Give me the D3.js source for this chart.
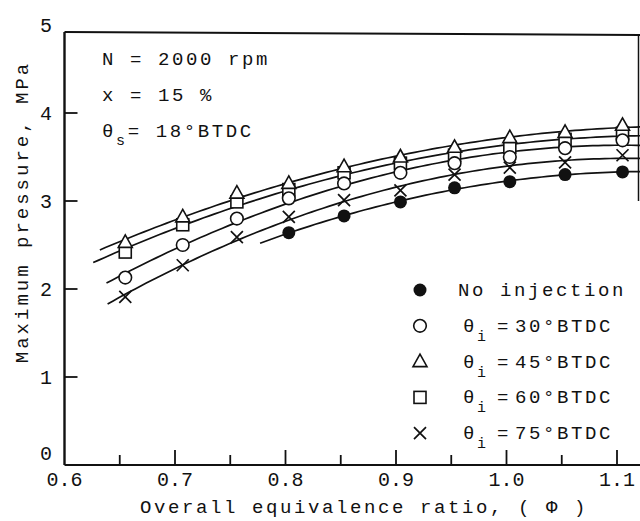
<!DOCTYPE html>
<html>
<head>
<meta charset="utf-8">
<script src="https://d3js.org/d3.v7.min.js"></script>
<style>
  body { margin: 0; background: #fff; }
  svg text { font-family: "Liberation Mono", "DejaVu Sans Mono", monospace; fill: #111; }
</style>
</head>
<body>
<script>
// equivalence ratio of each measured point
var phi = [0.655, 0.707, 0.756, 0.803, 0.853, 0.904, 0.953, 1.003, 1.053, 1.105];

// maximum pressure, MPa
var noInjection = [null, null, null, 2.64, 2.83, 2.99, 3.15, 3.22, 3.30, 3.33];
var inj30 = [2.13, 2.50, 2.80, 3.03, 3.20, 3.32, 3.43, 3.50, 3.60, 3.69];
var inj45 = [2.53, 2.82, 3.09, 3.20, 3.39, 3.50, 3.61, 3.72, 3.78, 3.86];
var inj60 = [2.42, 2.73, 2.99, 3.13, 3.32, 3.43, 3.52, 3.61, 3.70, 3.77];
var inj75 = [1.91, 2.27, 2.59, 2.82, 3.01, 3.12, 3.30, 3.38, 3.44, 3.52];

// where each fitted curve starts on the left
var curveStart = [0.777, 0.638, 0.632, 0.626, 0.639];

var seriesNames = ["No injection", "30", "45", "60", "75"];
var seriesValues = [noInjection, inj30, inj45, inj60, inj75];
var seriesSymbols = ["dot", "circle", "triangle", "square", "cross"];

var xTicks = [0.6, 0.7, 0.8, 0.9, 1.0, 1.1];
var xMinor = [0.65, 0.75, 0.85, 0.95, 1.05];
var yTicks = [0, 1, 2, 3, 4, 5];

var width = 640, height = 521;

var x = d3.scaleLinear().domain([0.6, 1.1]).range([64.5, 617]);
var y = d3.scaleLinear().domain([0, 5]).range([465, 25]);

var svg = d3.select("body").append("svg")
    .attr("width", width)
    .attr("height", height);

var ink = "#111";

// frame: left axis, bottom axis, top and a bit of the right edge
var frameTop = y(4.92);
svg.append("line").attr("x1", x(0.6)).attr("x2", x(0.6))
    .attr("y1", y(0)).attr("y2", frameTop)
    .attr("stroke", ink).attr("stroke-width", 2.4);
svg.append("line").attr("x1", x(0.6)).attr("x2", width)
    .attr("y1", y(0)).attr("y2", y(0))
    .attr("stroke", ink).attr("stroke-width", 2);
svg.append("line").attr("x1", x(0.6)).attr("x2", width)
    .attr("y1", frameTop).attr("y2", frameTop + 3)
    .attr("stroke", ink).attr("stroke-width", 2);
svg.append("line").attr("x1", width - 1.5).attr("x2", width - 1.5)
    .attr("y1", frameTop + 3).attr("y2", y(3))
    .attr("stroke", ink).attr("stroke-width", 1.5);

// inward ticks
svg.selectAll("line.xmaj").data(xTicks.slice(1)).enter().append("line")
    .attr("x1", d => x(d)).attr("x2", d => x(d))
    .attr("y1", y(0)).attr("y2", y(0) - 15)
    .attr("stroke", ink).attr("stroke-width", 1.8);
svg.selectAll("line.xmin").data(xMinor).enter().append("line")
    .attr("x1", d => x(d)).attr("x2", d => x(d))
    .attr("y1", y(0)).attr("y2", y(0) - 10)
    .attr("stroke", ink).attr("stroke-width", 1.8);
svg.selectAll("line.ytk").data(yTicks.slice(1, 5)).enter().append("line")
    .attr("x1", x(0.6)).attr("x2", x(0.6) + 13)
    .attr("y1", d => y(d)).attr("y2", d => y(d))
    .attr("stroke", ink).attr("stroke-width", 1.8);

// tick labels
svg.selectAll("text.xl").data(xTicks).enter().append("text")
    .attr("x", d => x(d)).attr("y", 486)
    .attr("text-anchor", "middle")
    .style("font-size", "20px")
    .text(d => d3.format(".1f")(d));
svg.selectAll("text.yl").data(yTicks).enter().append("text")
    .attr("x", 52).attr("y", d => y(d) + (d === 0 ? -5 : 7))
    .attr("text-anchor", "end")
    .style("font-size", "20px")
    .text(d => d);

// axis titles
svg.append("text")
    .attr("x", 364).attr("y", 513)
    .attr("text-anchor", "middle")
    .style("font-size", "19px").style("letter-spacing", "2.6px")
    .text("Overall equivalence ratio, ( \u03a6 )");
svg.append("text")
    .attr("transform", "translate(28,212) rotate(-90)")
    .attr("text-anchor", "middle")
    .style("font-size", "19px").style("letter-spacing", "3px")
    .text("Maximum pressure, MPa");

// conditions
var cond = svg.append("g").style("font-size", "19px").style("letter-spacing", "2.6px");
cond.append("text").attr("x", 102).attr("y", 65).text("N = 2000 rpm");
cond.append("text").attr("x", 102).attr("y", 101).text("x = 15 %");
var ts = cond.append("text").attr("x", 102).attr("y", 137);
ts.append("tspan").text("\u03b8");
ts.append("tspan").attr("dy", 8).style("font-size", "15px").text("s");
ts.append("tspan").attr("dy", -8).text("= 18\u00b0BTDC");

// quadratic least-squares fit for each series curve
function fitQuad(xs, ys) {
  var s = [0, 0, 0, 0, 0], t = [0, 0, 0];
  xs.forEach(function(xv, i) {
    var yv = ys[i];
    if (yv == null) return;
    var p = 1;
    for (var k = 0; k < 5; k++) { s[k] += p; if (k < 3) t[k] += p * yv; p *= xv; }
  });
  var m = [[s[0], s[1], s[2], t[0]], [s[1], s[2], s[3], t[1]], [s[2], s[3], s[4], t[2]]];
  for (var c = 0; c < 3; c++) {
    for (var r = c + 1; r < 3; r++) {
      var f = m[r][c] / m[c][c];
      for (var k = c; k < 4; k++) m[r][k] -= f * m[c][k];
    }
  }
  var a = [0, 0, 0];
  for (var r = 2; r >= 0; r--) {
    var v = m[r][3];
    for (var k = r + 1; k < 3; k++) v -= m[r][k] * a[k];
    a[r] = v / m[r][r];
  }
  return function(xv) { return a[0] + a[1] * xv + a[2] * xv * xv; };
}

svg.append("clipPath").attr("id", "plotclip").append("rect")
    .attr("x", x(0.6)).attr("y", frameTop).attr("width", width - x(0.6)).attr("height", y(0) - frameTop);

var line = d3.line().x(d => x(d[0])).y(d => y(d[1]));
var curves = svg.append("g").attr("clip-path", "url(#plotclip)");
seriesValues.forEach(function(vals, i) {
  var f = fitQuad(phi, vals);
  var pts = d3.range(curveStart[i], 1.13, 0.005).map(v => [v, f(v)]);
  curves.append("path").attr("d", line(pts))
      .attr("fill", "none").attr("stroke", ink).attr("stroke-width", 1.7);
});

// symbols
function drawSymbol(g, type, cx, cy) {
  if (type === "dot") {
    g.append("circle").attr("cx", cx).attr("cy", cy).attr("r", 6.5).attr("fill", ink);
  } else if (type === "circle") {
    g.append("circle").attr("cx", cx).attr("cy", cy).attr("r", 6.3)
        .attr("fill", "#fff").attr("stroke", ink).attr("stroke-width", 1.6);
  } else if (type === "triangle") {
    g.append("path").attr("d", "M" + cx + "," + (cy - 7.5) + "L" + (cx + 7) + "," + (cy + 5) + "L" + (cx - 7) + "," + (cy + 5) + "Z")
        .attr("fill", "#fff").attr("stroke", ink).attr("stroke-width", 1.6);
  } else if (type === "square") {
    g.append("rect").attr("x", cx - 6).attr("y", cy - 6).attr("width", 12).attr("height", 12)
        .attr("fill", "#fff").attr("stroke", ink).attr("stroke-width", 1.6);
  } else if (type === "cross") {
    g.append("path").attr("d", "M" + (cx - 6) + "," + (cy - 6) + "L" + (cx + 6) + "," + (cy + 6) + "M" + (cx + 6) + "," + (cy - 6) + "L" + (cx - 6) + "," + (cy + 6))
        .attr("stroke", ink).attr("stroke-width", 1.7);
  }
}

var marks = svg.append("g");
[3, 4, 1, 2, 0].forEach(function(i) {
  seriesValues[i].forEach(function(v, j) {
    if (v == null) return;
    drawSymbol(marks, seriesSymbols[i], x(phi[j]), y(v));
  });
});

// legend
var legend = svg.append("g").style("font-size", "19px").style("letter-spacing", "2.6px");
seriesNames.forEach(function(name, i) {
  var ly = 290 + i * 35.8;
  drawSymbol(legend, seriesSymbols[i], 420, ly);
  var t = legend.append("text").attr("x", 458).attr("y", ly + 6);
  if (i === 0) {
    t.text(name);
  } else {
    t.append("tspan").attr("x", 463).text("\u03b8");
    t.append("tspan").attr("dy", 9).style("font-size", "15px").text("i");
    t.append("tspan").attr("dy", -9).attr("x", 497).text("=");
    t.append("tspan").attr("x", 515).text(name + "\u00b0BTDC");
  }
});
</script>
</body>
</html>
